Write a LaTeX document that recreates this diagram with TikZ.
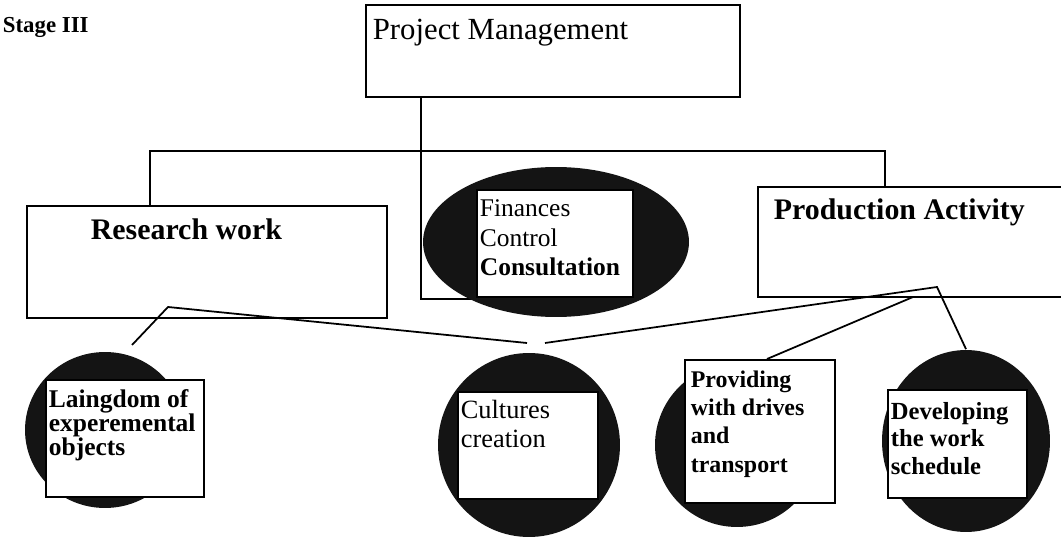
\documentclass[tikz,border=0pt]{standalone}
\usepackage{fontspec}
\setmainfont{Liberation Serif}
\usetikzlibrary{shapes.geometric}

\tikzset{
  box/.style={draw, rectangle, line width=1.2pt, inner sep=0pt},
  blob/.style={ellipse, fill=black!92, draw=none, inner sep=0pt},
  card/.style={draw, rectangle, fill=white, line width=1pt, inner sep=0pt},
  lbl/.style={anchor=base west, inner sep=0pt, align=left},
}

\begin{document}
\begin{tikzpicture}[x=0.02cm, y=-0.02cm, line width=1pt]
    \useasboundingbox (0,0) rectangle (1061,540);

    \node[lbl, font=\fontsize{13}{15}\selectfont\bfseries] (stage) at (2,33) {Stage III};

    % top level
    \node[box, minimum width=7.48cm, minimum height=1.84cm] (pm) at (553,51) {};
    \node[lbl, font=\fontsize{17.5}{20}\selectfont] (pmtext) at (372,40) {Project Management};

    % second level
    \node[box, minimum width=7.2cm, minimum height=2.24cm] (rw) at (207,262) {};
    \node[lbl, font=\fontsize{17}{20}\selectfont\bfseries] (rwtext) at (90,240) {Research work};

    \node[box, minimum width=6.24cm, minimum height=2.2cm] (pa) at (914,242) {};
    \node[lbl, font=\fontsize{17}{20}\selectfont\bfseries] (patext) at (773,220) {Production Activity};

    \coordinate (hub) at (421,151);
    \coordinate (barL) at (150,151);
    \coordinate (barR) at (885,151);
    \draw (pm.south -| hub) -- (hub);
    \draw (barL |- rw.north) -- (barL) -- (barR) -- (barR |- pa.north);
    \draw (hub) -- (421,299) -- (477,299);

    \node[blob, minimum width=5.32cm, minimum height=3cm] (fin) at (556,242) {};
    \node[card, minimum width=3.12cm, minimum height=2.14cm] (fincard) at (555,243.5) {};
    \node[lbl, font=\fontsize{14.5}{17}\selectfont] (fintext) at (479,276)
      {Finances\\Control\\\textbf{Consultation}};

    % bottom level
    \node[blob, minimum width=3.2cm, minimum height=3.12cm] (lai) at (105,430) {};
    \node[card, minimum width=3.16cm, minimum height=2.34cm] (laicard) at (125,438.5) {};
    \node[lbl, font=\fontsize{14.5}{13.5}\selectfont\bfseries] (laitext) at (48,455)
      {Laingdom of\\experemental\\objects};

    \node[blob, minimum width=3.64cm, minimum height=3.68cm] (cul) at (529,445) {};
    \node[card, minimum width=2.8cm, minimum height=2.14cm] (culcard) at (528,445.5) {};
    \node[lbl, font=\fontsize{15}{16}\selectfont] (cultext) at (460,447)
      {Cultures\\creation};

    \node[blob, minimum width=3.28cm, minimum height=3.28cm] (prov) at (737,445) {};
    \node[card, minimum width=3cm, minimum height=2.86cm] (provcard) at (760,431.5) {};
    \node[lbl, font=\fontsize{13.6}{16}\selectfont\bfseries] (provtext) at (690,472)
      {Providing\\with drives\\and\\transport};

    \node[blob, minimum width=3.36cm, minimum height=3.64cm] (dev) at (966,441) {};
    \node[card, minimum width=2.78cm, minimum height=2.16cm] (devcard) at (957.5,444) {};
    \node[lbl, font=\fontsize{14}{15.4}\selectfont\bfseries] (devtext) at (890,474)
      {Developing\\the work\\schedule};

    % links to the bottom level
    \coordinate (rwfoot) at (132,345);
    \coordinate (rwapex) at (168,307);
    \coordinate (culL) at (527,343);
    \coordinate (culR) at (545,343);
    \coordinate (paapex) at (937,287);
    \coordinate (pakink) at (913,297);
    \coordinate (provtop) at (767,359);
    \draw (rwfoot) -- (rwapex) -- (culL);
    \draw (culR) -- (paapex) -- (dev.north);
    \draw (pakink) -- (provtop);
\end{tikzpicture}
\end{document}
